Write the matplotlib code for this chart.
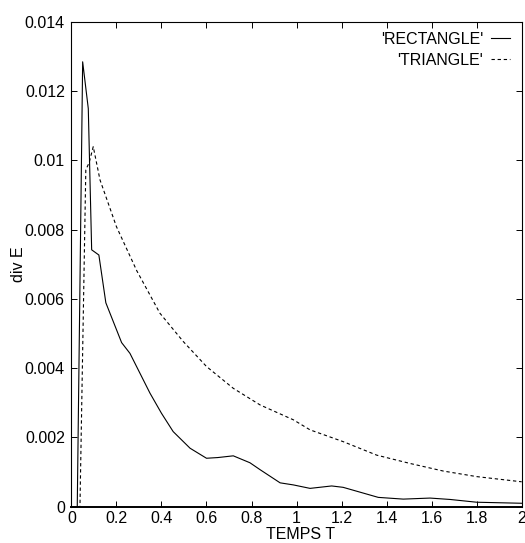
import matplotlib
matplotlib.use('Agg')
import matplotlib.pyplot as plt
from matplotlib.ticker import FuncFormatter, MultipleLocator

# ── Data ──
t_rect = [0.0, 0.026, 0.05, 0.075, 0.09, 0.122, 0.153, 0.223, 0.26, 0.349, 0.40,
          0.452, 0.527, 0.60, 0.65, 0.719, 0.793, 0.838, 0.927, 0.986, 1.06,
          1.156, 1.207, 1.363, 1.474, 1.593, 1.682, 1.80, 2.0]
div_rect = [0.0, 0.0, 12.85, 11.5, 7.42, 7.27, 5.89, 4.74, 4.43, 3.28, 2.70,
            2.17, 1.69, 1.40, 1.42, 1.47, 1.27, 1.07, 0.69, 0.63, 0.53,
            0.60, 0.56, 0.27, 0.22, 0.25, 0.21, 0.13, 0.10]

t_tri = [0.0, 0.038, 0.064, 0.079, 0.097, 0.127, 0.20, 0.290, 0.393, 0.497,
         0.60, 0.719, 0.838, 0.986, 1.06, 1.207, 1.356, 1.504, 1.652, 1.80, 2.0]
div_tri = [0.0, 0.0, 9.73, 9.94, 10.4, 9.44, 8.09, 6.82, 5.59, 4.77,
           4.05, 3.42, 2.94, 2.51, 2.22, 1.88, 1.49, 1.25, 1.03, 0.87, 0.72]

# values above are in units of 1e-3
div_rect = [v * 1e-3 for v in div_rect]
div_tri = [v * 1e-3 for v in div_tri]

plt.rcParams['font.family'] = ['Liberation Sans', 'DejaVu Sans']
plt.rcParams['font.size'] = 11.5

fig = plt.figure(figsize=(5.25, 5.43), dpi=100)
ax = fig.add_axes([0.136, 0.0668, 0.8577, 0.8927])

ax.plot(t_rect, div_rect, color='black', lw=0.8, label="'RECTANGLE'")
ax.plot(t_tri, div_tri, color='black', lw=0.8, dashes=(3, 2.5), label="'TRIANGLE'")

ax.set_xlim(0, 2)
ax.set_ylim(0, 0.014)
ax.xaxis.set_major_locator(MultipleLocator(0.2))
ax.yaxis.set_major_locator(MultipleLocator(0.002))
fmt = FuncFormatter(lambda v, _: '%g' % round(v, 6))
ax.xaxis.set_major_formatter(fmt)
ax.yaxis.set_major_formatter(fmt)

ax.tick_params(direction='in', top=True, right=True, length=4.3, width=0.7)
ax.tick_params(axis='y', pad=4.7)
ax.tick_params(axis='x', pad=3.0)
for s in ax.spines.values():
    s.set_linewidth(0.8)
ax.spines['bottom'].set_linewidth(1.4)

ax.set_xlabel('TEMPS T')
ax.xaxis.set_label_coords(0.51, -0.041)
ax.set_ylabel('div E')
ax.yaxis.set_label_coords(-0.100, 0.5)

ax.legend(loc='upper right', bbox_to_anchor=(0.9745, 0.980), frameon=False,
          markerfirst=False, handlelength=1.2, handletextpad=0.5, borderpad=0,
          borderaxespad=0, labelspacing=0.38)

fig.savefig('out.png', dpi=100)
